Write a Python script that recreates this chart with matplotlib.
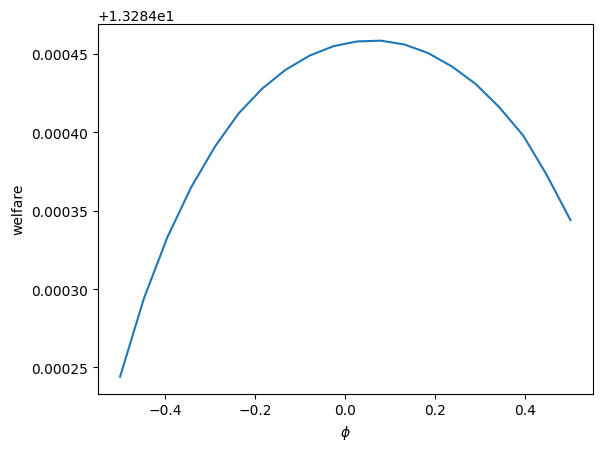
import matplotlib
matplotlib.use("Agg")
import matplotlib.pyplot as plt

# phi grid
phi = [-0.5, -0.447, -0.395, -0.342, -0.289, -0.237, -0.184, -0.132, -0.079, -0.026,
       0.026, 0.079, 0.132, 0.184, 0.237, 0.289, 0.342, 0.395, 0.447, 0.5]

# welfare minus 13.284
welfare_offset = [0.000244, 0.000294, 0.000333, 0.000365, 0.000391, 0.000412, 0.000428,
                  0.000440, 0.000449, 0.000455, 0.000458, 0.0004585, 0.000456, 0.0004506,
                  0.000442, 0.000431, 0.000416, 0.000398, 0.000373, 0.000344]

base = 13.284
welfare = [base + v for v in welfare_offset]

fig, ax = plt.subplots(figsize=(6.02, 4.52), dpi=100)
ax.plot(phi, welfare)
ax.set_xlabel(r"$\phi$")
ax.set_ylabel("welfare")
fig.subplots_adjust(left=0.162, right=0.985, top=0.945, bottom=0.127)
fig.savefig("out.png", dpi=100)
